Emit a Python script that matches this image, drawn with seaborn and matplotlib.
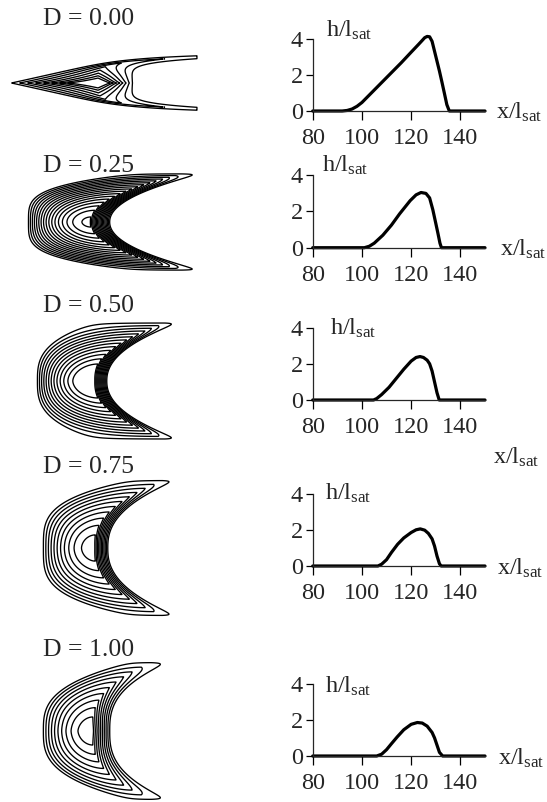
import numpy as np
import pandas as pd
import matplotlib
matplotlib.use("Agg")
import matplotlib.pyplot as plt
import seaborn as sns

# ---------------- data ----------------
D_labels = ["D = 0.00", "D = 0.25", "D = 0.50", "D = 0.75", "D = 1.00"]

# centre-line height profiles h/l_sat versus x/l_sat
x_d000 = [80, 92, 94, 96, 98, 100, 104, 108, 112, 116, 120, 123, 124.5, 125.5, 126.5, 127.5, 128.5, 129.5, 130.5, 131.5, 132.5, 133.5, 134.5, 135.5, 150]
h_d000 = [0, 0, 0.03, 0.11, 0.26, 0.47, 1.02, 1.57, 2.12, 2.67, 3.25, 3.68, 3.9, 4.05, 4.12, 4.1, 3.85, 3.3, 2.75, 2.2, 1.6, 0.98, 0.35, 0, 0]

x_d025 = [80, 101, 103, 105, 108.5, 112, 115.3, 119.6, 122, 124, 126, 127.5, 128.8, 130, 130.9, 131.7, 132.3, 150]
h_d025 = [0, 0, 0.08, 0.25, 0.69, 1.25, 1.87, 2.6, 2.92, 3.05, 3.0, 2.75, 2.1, 1.35, 0.78, 0.25, 0, 0]

x_d050 = [80, 104.7, 106, 108, 111, 114, 117, 120, 122, 123.6, 125, 126.5, 127.5, 128.5, 129.5, 130.5, 131.4, 150]
h_d050 = [0, 0, 0.08, 0.3, 0.7, 1.2, 1.7, 2.15, 2.35, 2.4, 2.35, 2.2, 2.0, 1.6, 1.0, 0.4, 0, 0]

x_d075 = [80, 106.5, 108, 110, 112, 114.5, 117, 120, 122, 123.7, 125.5, 127, 128.5, 129.5, 130.5, 131.5, 132.2, 150]
h_d075 = [0, 0, 0.1, 0.35, 0.75, 1.2, 1.55, 1.85, 2.0, 2.05, 1.98, 1.8, 1.5, 1.1, 0.55, 0.12, 0, 0]

x_d100 = [80, 106, 108, 110, 112, 114.3, 117, 120, 122.5, 124.5, 126.5, 128.5, 129.5, 130.5, 131.5, 132.8, 150]
h_d100 = [0, 0, 0.1, 0.35, 0.68, 1.05, 1.45, 1.75, 1.85, 1.82, 1.65, 1.3, 1.0, 0.6, 0.2, 0, 0]

profiles_x = [x_d000, x_d025, x_d050, x_d075, x_d100]
profiles_h = [h_d000, h_d025, h_d050, h_d075, h_d100]

x_ticks = [80, 100, 120, 140]
h_ticks = [0, 2, 4]

# barchan height-map model for the contour maps (pixel units of the picture):
# crest (slip-face brink) line  x = crest_x0 + crest_k*|y|^crest_p
# windward foot line            x = foot_x0 + foot_lin*|y| + foot_k*|y|^foot_p
# crest height falls along the horns as 1 - (|y|/ridge_len)^ridge_q
crest_x0 = [98, 90, 93, 94, 92]
crest_k = [1.2e-6, 0.027, 0.0095, 0.0028, 6.6e-4]
crest_p = [5.6, 2.1, 2.2, 2.4, 2.7]
foot_x0 = [10, 28, 37, 43, 43]
foot_lin = [4.5, 0.0, 0.0, 0.0, 0.0]
foot_k = [1.6e-10, 1.9e-5, 2.8e-4, 2.2e-5, 2.66e-4]
foot_p = [8, 4, 3, 3.6, 3]
ridge_len = [29.4, 48.5, 58.5, 68, 69]
ridge_q = [0.55, 1.8, 1.65, 1.71, 1.57]
slip_len = [35, 20, 14, 14, 18]
back_shape = [1, 2, 2, 2, 2]
domain_end = [197, 1000, 1000, 1000, 1000]
top_level = [0.625, 0.983, 0.87, 0.94, 0.918]
n_levels = [8, 17, 13, 11, 10]

# ---------------- layout (pixels) ----------------
W, H = 547, 802
dune_cy = [83, 222, 381, 548, 731]
label_baseline = [25, 172, 312, 473, 656]
prof_zero_y = [111, 247.7, 400, 566, 756]
px_per_h = 18.1
ax_left_px, ax_width_px = 312.7, 172.3
h_lab_x = [85.5, 83.7, 87, 85, 85]
h_lab_y = [4.1, 4.2, 3.6, 3.65, 3.5]
x_lab_x = [154.5, 156, 153.3, 155, 155.3]
x_lab_y = [-0.45, -0.45, -3.5, -0.5, -0.5]

sns.set_theme(style="ticks")
plt.rcParams["font.family"] = ["Liberation Serif", "DejaVu Serif"]
plt.rcParams["mathtext.fontset"] = "custom"
plt.rcParams["mathtext.rm"] = "Liberation Serif"
plt.rcParams["mathtext.it"] = "Liberation Serif:italic"
plt.rcParams["mathtext.bf"] = "Liberation Serif:bold"

fig = plt.figure(figsize=(W / 100, H / 100), dpi=100)
fig.patch.set_facecolor("white")


def fx(px):
    return px / W


def fy(py):
    return 1 - py / H


# ---------------- left column: contour maps ----------------
for i in range(5):
    yc = dune_cy[i]
    half = 80
    ax = fig.add_axes([0, fy(yc + half), 230 / W, 2 * half / H])
    ax.set_xlim(0, 230)
    ax.set_ylim(yc + half, yc - half)
    ax.axis("off")
    gx = np.linspace(0, 230, 1100)
    gy = np.linspace(yc - half, yc + half, 800)
    X, Y = np.meshgrid(gx, gy)
    av = np.abs(Y - yc)
    x_crest = crest_x0[i] + crest_k[i] * av ** crest_p[i]
    x_foot = foot_x0[i] + foot_lin[i] * av + foot_k[i] * av ** foot_p[i]
    width = np.maximum(x_crest - x_foot, 1.0)
    u = (X - x_foot) / width
    P = 1 - np.clip(1 - u, 0, None) ** back_shape[i]
    hc = np.clip(1 - (av / ridge_len[i]) ** ridge_q[i], 0, None)
    h_wind = hc * P
    h_slip = hc * (1 - (X - x_crest) / slip_len[i])
    field = np.where(X <= x_crest, h_wind, h_slip)
    field = np.where(X > domain_end[i], -0.5, field)
    levels = np.linspace(0.015, top_level[i], n_levels[i])
    ax.contour(X, Y, field, levels=levels, colors="black", linewidths=0.95)
    fig.text(fx(88.5), fy(label_baseline[i]), D_labels[i], ha="center", va="baseline",
             fontsize=18.5)

# ---------------- right column: profiles ----------------
for i in range(5):
    y0 = prof_zero_y[i]
    ax = fig.add_axes([fx(ax_left_px), fy(y0), ax_width_px / W, 4.4 * px_per_h / H])
    ax.patch.set_visible(False)
    df = pd.DataFrame({"x": profiles_x[i], "h": profiles_h[i]})
    sns.lineplot(data=df, x="x", y="h", ax=ax, color="black", linewidth=2.3,
                 estimator=None, sort=False, clip_on=False)
    ax.set_xlim(80, 150)
    ax.set_ylim(0, 4.4)
    for sname in ["top", "right"]:
        ax.spines[sname].set_visible(False)
    ax.spines["left"].set_bounds(0, 4)
    ax.spines["left"].set_linewidth(0.9)
    ax.spines["bottom"].set_linewidth(0.9)
    ax.set_xticks(x_ticks)
    ax.set_yticks(h_ticks)
    ax.tick_params(axis="x", direction="out", length=6.5, width=0.9, pad=6, labelsize=17.5, color="black")
    ax.tick_params(axis="y", direction="out", length=5, width=0.9, pad=2, labelsize=17.5, color="black")
    ax.set_xlabel("")
    ax.set_ylabel("")
    ax.text(h_lab_x[i], h_lab_y[i], r"h/l$_{\rm sat}$", fontsize=17.5, ha="left", va="baseline")
    ax.text(x_lab_x[i], x_lab_y[i], r"x/l$_{\rm sat}$", fontsize=17.5, ha="left", va="baseline",
            clip_on=False)

fig.savefig("out.png", dpi=100, facecolor="white")
